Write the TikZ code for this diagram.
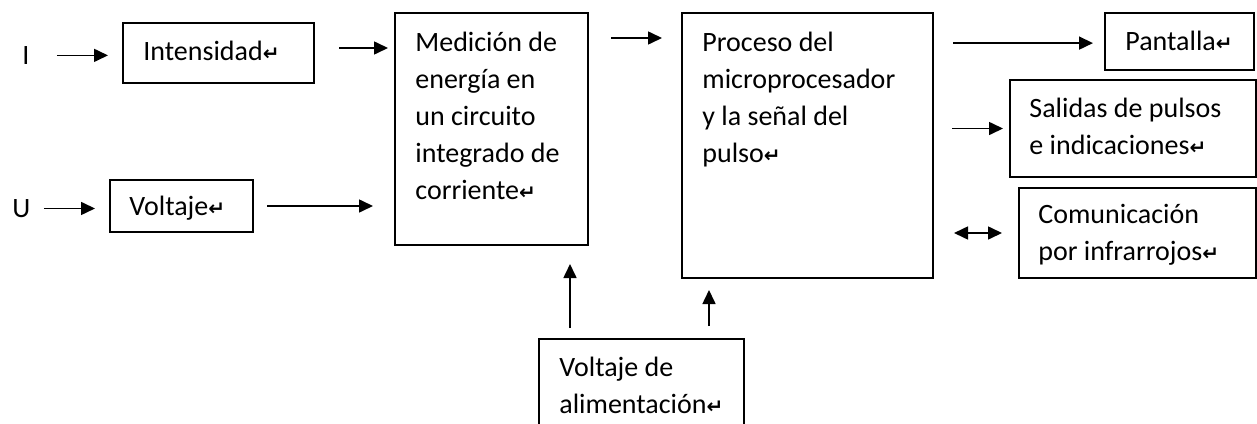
\documentclass[tikz,border=0pt]{standalone}
\usepackage{fontspec}
\setmainfont{Carlito}
\newfontfamily\markfont{DejaVu Sans}
\usetikzlibrary{arrows.meta}
\newcommand{\pmark}{{\markfont\bfseries\fontsize{10}{10}\selectfont ↵}}

\begin{document}
\begin{tikzpicture}[%
    x=0.5pt,
    y=-0.5pt,
    arr/.style={%
      -{Triangle[length=7pt,width=6.5pt]},
      line width=0.8pt
    },
    darr/.style={%
      {Triangle[length=7pt,width=6.5pt]}-{Triangle[length=7pt,width=6.5pt]},
      line width=0.8pt
    },
    box/.style={%
      draw,
      rectangle,
      line width=1pt,
      inner sep=0pt,
      anchor=north west
    },
    txt/.style={%
      inner sep=0pt,
      anchor=north west,
      align=left,
      font=\fontsize{14}{18.5}\selectfont
    }
  ]
    \useasboundingbox (0,0) rectangle (1257,423);

    % boxes
    \node[box, minimum width=95.5pt, minimum height=30pt]    (intens) at (122,22)  {};
    \node[box, minimum width=71.5pt, minimum height=26pt]    (volt)   at (109,179) {};
    \node[box, minimum width=96.5pt, minimum height=116pt]   (med)    at (394,12)  {};
    \node[box, minimum width=125.5pt, minimum height=132.5pt] (proc)  at (681,12)  {};
    \node[box, minimum width=74.5pt, minimum height=28.5pt]  (pant)   at (1104,12) {};
    \node[box, minimum width=123pt, minimum height=48.5pt]   (sal)    at (1009,79) {};
    \node[box, minimum width=118.5pt, minimum height=45pt]   (com)    at (1018,187) {};
    \node[box, minimum width=102.5pt, minimum height=50pt]   (alim)   at (538,338) {};

    % texts
    \node[txt] (I)         at (22,46)   {I};
    \node[txt] (U)         at (12,199)  {U};
    \node[txt] (intens-t)  at (143,41)  {Intensidad\pmark};
    \node[txt] (volt-t)    at (129,196) {Voltaje\pmark};
    \node[txt] (med-t)     at (415,32)  {Medición de\\energía en\\un circuito\\integrado de\\corriente\pmark};
    \node[txt] (proc-t)    at (702,32)  {Proceso del\\microprocesador\\y la señal del\\pulso\pmark};
    \node[txt] (pant-t)    at (1125,31) {Pantalla\pmark};
    \node[txt] (sal-t)     at (1029,98) {Salidas de pulsos\\e indicaciones\pmark};
    \node[txt] (com-t)     at (1038,204) {Comunicación\\por infrarrojos\pmark};
    \node[txt] (alim-t)    at (559,357) {Voltaje de\\alimentación\pmark};

    % connectors
    \draw[arr, shorten <=13.5pt, shorten >=7pt]  (I.east) -- (I.east -| intens.west);
    \draw[arr, shorten <=6.5pt, shorten >=7pt]   (U.east) -- (U.east -| volt.west);
    \draw[arr, shorten <=12pt, shorten >=3pt]    ([yshift=2.5pt]intens.east) -- ([yshift=2.5pt]intens.east -| med.west);
    \draw[arr, shorten <=6.5pt, shorten >=10.5pt] (volt.east) -- (volt.east -| med.west);
    \draw[arr, shorten <=11pt, shorten >=9.5pt]  ([yshift=-13pt]med.north east) -- ([yshift=-13pt]med.north east -| proc.west);
    \draw[arr, shorten <=9.5pt, shorten >=5.5pt] ([yshift=-0.8pt]pant.west -| proc.east) -- ([yshift=-0.8pt]pant.west);
    \draw[arr, shorten <=9pt, shorten >=3pt]     (sal.west -| proc.east) -- (sal.west);
    \draw[darr, shorten <=10pt, shorten >=8pt]   (com.west -| proc.east) -- (com.west);
    \draw[arr, shorten <=5pt, shorten >=9pt]     ([xshift=16pt]alim.north west) -- ([xshift=16pt]alim.north west |- med.south);
    \draw[arr, shorten <=6pt, shorten >=5.5pt]   ([xshift=-18pt]alim.north east) -- ([xshift=-18pt]alim.north east |- proc.south);
\end{tikzpicture}
\end{document}
